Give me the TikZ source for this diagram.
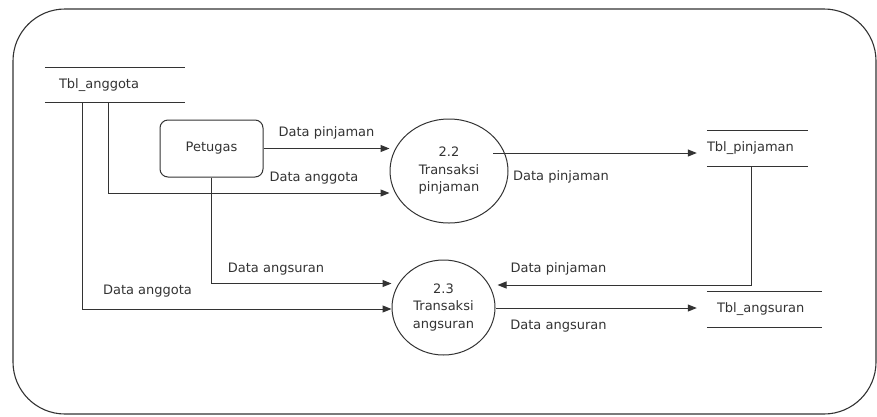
\documentclass[tikz,border=0pt]{standalone}
\usepackage{fontspec}
\setmainfont{DejaVu Sans}
\usetikzlibrary{arrows.meta,shapes.geometric}
\definecolor{ink}{HTML}{333333}
\begin{document}
\begin{tikzpicture}[x=1pt,y=-1pt,
  font=\fontsize{13}{17.5}\selectfont,
  every node/.style={text=ink},
  frame/.style={draw=ink,line width=1.1pt,rounded corners=52pt},
  entity/.style={draw=ink,line width=1pt,rounded corners=8pt,minimum width=103pt,minimum height=57pt,inner sep=0pt},
  proc/.style={draw=ink,line width=1pt,ellipse,inner sep=0pt,align=center},
  store/.style={inner ysep=0pt,minimum height=35pt,align=left},
  storeline/.style={draw=ink,line width=1pt},
  flow/.style={draw=ink,line width=1pt,-{Triangle[length=9pt,width=7pt]}},
  lbl/.style={inner sep=0pt}]
\useasboundingbox (0,0) rectangle (877,416);
\draw[frame] (13,9) rectangle (876,414);

% data stores
\node[store,inner xsep=0pt,text width=140pt,minimum height=34pt] (ta) at (115,85) {\hspace*{14pt}Tbl\_anggota};
\draw[storeline] (ta.north west) -- (ta.north east);
\draw[storeline] (ta.south west) -- (ta.south east);

\node[store,inner xsep=0pt,text width=101pt] (tp) at (757.5,148.5) {Tbl\_pinjaman};
\draw[storeline] (tp.north west) -- (tp.north east);
\draw[storeline] (tp.south west) -- (tp.south east);

\node[store,inner xsep=0pt,text width=115pt] (ts) at (764.5,309.5) {\hspace*{10pt}Tbl\_angsuran};
\draw[storeline] (ts.north west) -- (ts.north east);
\draw[storeline] (ts.south west) -- (ts.south east);

% entity
\node[entity] (pet) at (211.5,148.5) {Petugas};

% processes
\node[proc,minimum width=118pt,minimum height=104pt] (p22) at (449,171) {2.2\\Transaksi\\pinjaman};
\node[proc,minimum width=103pt,minimum height=95pt] (p23) at (443.5,307.5) {2.3\\Transaksi\\angsuran};

% flows
\draw[flow] (pet.east) -- (pet.east -| p22.west);
\draw[flow] ([xshift=-7pt]ta.south) |- ([yshift=-22pt]p22.west);
\draw[flow] ([xshift=-33pt]ta.south) |- ([yshift=-1.5pt]p23.west);
\draw[flow] (pet.south) |- ([yshift=24pt]p23.west);
\draw[flow] ([xshift=44pt,yshift=18pt]p22.center) -- ([xshift=-10pt,yshift=-4.5pt]tp.west);
\draw[flow] ([xshift=-6.5pt]tp.south) |- ([xshift=2pt,yshift=22.5pt]p23.east);
\draw[flow] ([yshift=-0.5pt]p23.east) -- ([xshift=-10pt,yshift=1.5pt]ts.west);

% labels
\node[lbl] (l1) at (326.5,133) {Data pinjaman};
\node[lbl] (l2) at (314,178) {Data anggota};
\node[lbl] (l3) at (147.5,291) {Data anggota};
\node[lbl] (l4) at (276,269) {Data angsuran};
\node[lbl] (l5) at (561,177) {Data pinjaman};
\node[lbl] (l6) at (558.5,269) {Data pinjaman};
\node[lbl] (l7) at (558.5,326) {Data angsuran};
\end{tikzpicture}
\end{document}
